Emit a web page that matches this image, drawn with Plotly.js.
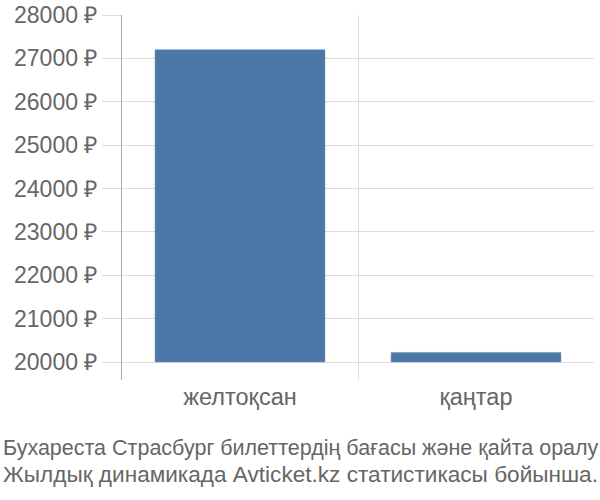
<!DOCTYPE html>
<html>
<head>
<meta charset="utf-8">
<script src="https://cdn.plot.ly/plotly-3.0.1.min.js"></script>
<style>
    html, body { margin: 0; padding: 0; background: #fff; }
    #chart { width: 600px; height: 500px; }
</style>
</head>
<body>
<div id="chart"></div>
<script>
// months and average ticket price (rubles)
const months = ['желтоқсан', 'қаңтар'];
const prices = [27200, 20220];
const baseline = 20000;

// y axis ticks
const priceTicks = [20000, 21000, 22000, 23000, 24000, 25000, 26000, 27000, 28000];
const priceTickText = priceTicks.map(v => v + ' ₽');

const titleLines = [
    'Бухареста Страсбург билеттердің бағасы және қайта оралу',
    'Жылдық динамикада Avticket.kz статистикасы бойынша.'
];

const textColor = '#666';
const gridColor = '#ddd';
const titleFont = 'Liberation Sans Narrow, Liberation Sans, Arial, sans-serif';

const trace = {
    type: 'bar',
    x: months,
    y: prices.map(p => p - baseline),  // bars start at the baseline
    base: baseline,
    width: 0.72,
    marker: {
        color: '#4c78a8',
        line: { color: '#6f93bd', width: 0.5 }
    },
    hoverinfo: 'skip'
};

// one annotation per title line, placed under the plot
const titleAnnotations = titleLines.map((line, i) => ({
    text: line,
    xref: 'paper',
    yref: 'paper',
    x: 0,
    xanchor: 'left',
    xshift: -121,
    y: i === 0 ? -0.186 : -0.258,
    yanchor: 'middle',
    showarrow: false,
    align: 'left',
    font: { family: titleFont, size: i === 0 ? 21.5 : 22.6, color: textColor }
}));

const layout = {
    width: 600,
    height: 500,
    margin: { l: 122, r: 6, t: 15, b: 120 },
    paper_bgcolor: '#fff',
    plot_bgcolor: '#fff',
    showlegend: false,
    font: { family: 'Liberation Sans, Arial, sans-serif', size: 23, color: textColor },
    xaxis: {
        type: 'category',
        range: [-0.5, 1.5],
        tickson: 'boundaries',
        showgrid: true,
        gridcolor: gridColor,
        gridwidth: 1,
        ticks: '',
        showline: false,
        zeroline: false,
        tickfont: { size: 23.5, color: textColor },
        fixedrange: true
    },
    yaxis: {
        range: [19585, 28000],
        tickvals: priceTicks,
        ticktext: priceTickText,
        showgrid: true,
        gridcolor: gridColor,
        gridwidth: 1,
        ticks: 'outside',
        ticklen: 19,
        tickcolor: gridColor,
        showline: true,
        linecolor: '#aaa',
        linewidth: 1,
        zeroline: false,
        tickfont: { size: 23, color: textColor },
        fixedrange: true
    },
    annotations: titleAnnotations
};

Plotly.newPlot('chart', [trace], layout, { displayModeBar: false, staticPlot: true });
</script>
</body>
</html>
